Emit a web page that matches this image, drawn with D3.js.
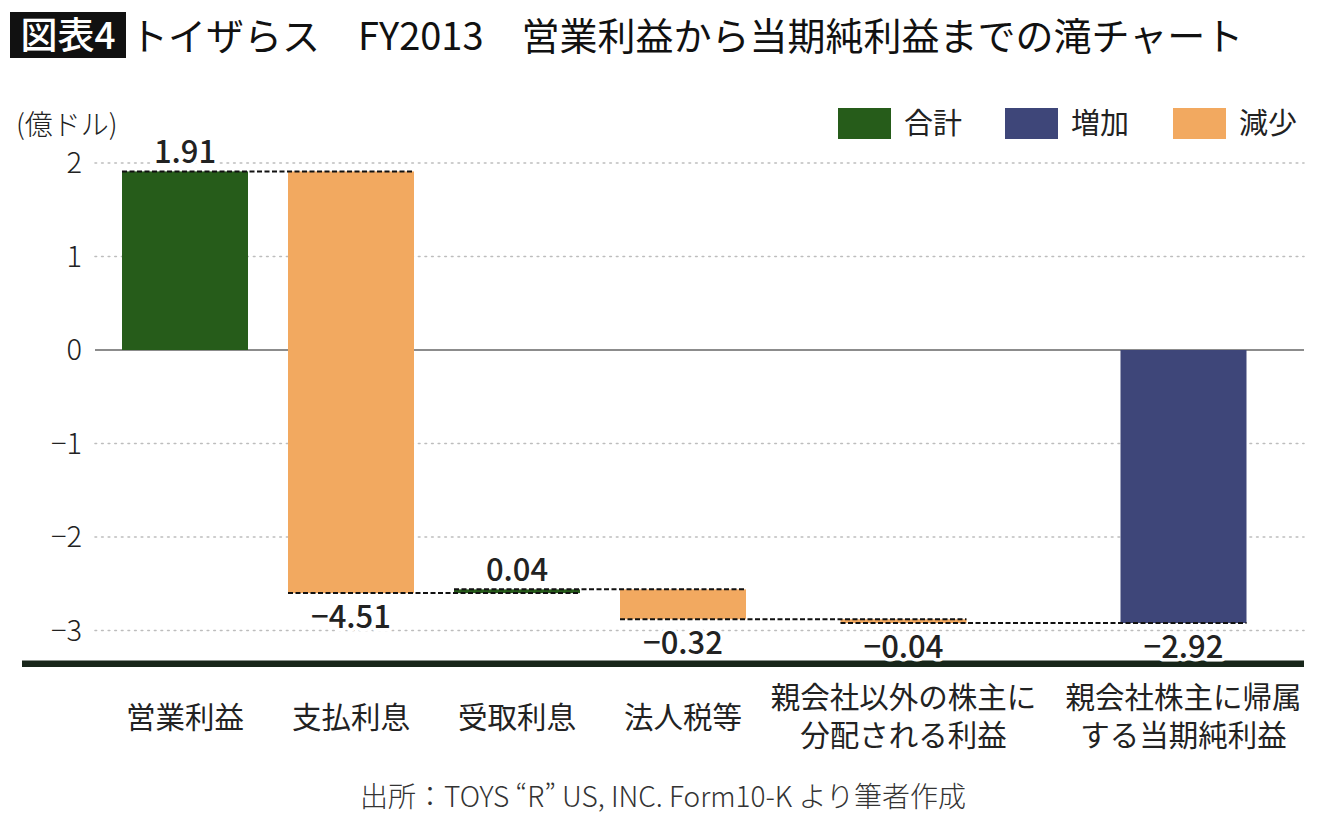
<!DOCTYPE html>
<html lang="ja">
  <head>
    <meta charset="UTF-8" />
    <title>トイザらス FY2013 滝チャート</title>
    <script src="https://d3js.org/d3.v7.min.js"></script>
    <style>
      body {
        margin: 0;
        background: #fff;
      }
      svg text {
        font-family: "Noto Sans CJK JP", "Noto Sans", sans-serif;
        fill: #222;
      }
      .grid line {
        stroke: #bdbdbd;
        stroke-width: 1.6px;
        stroke-dasharray: 1.6 5;
        stroke-linecap: round;
      }
      .connector {
        stroke: #111;
        stroke-width: 2px;
        stroke-dasharray: 5 2.5;
      }
      .value-label {
        font-size: 31px;
        font-weight: 500;
        paint-order: stroke;
        stroke: #fff;
        stroke-width: 7px;
        stroke-linejoin: round;
      }
    </style>
  </head>
  <body>
    <div id="chart"></div>

    <script>
      // chart data
      const categories = [
        "営業利益",
        "支払利息",
        "受取利息",
        "法人税等",
        "親会社以外の株主に\n分配される利益",
        "親会社株主に帰属\nする当期純利益",
      ];
      const values = [1.91, -4.51, 0.04, -0.32, -0.04, -2.92];
      const isTotal = [true, false, false, false, false, true];
      const barKinds = ["合計", "減少", "合計", "減少", "減少", "増加"];
      const legendLabels = ["合計", "増加", "減少"];
      const yTicks = [2, 1, 0, -1, -2, -3];

      const width = 1340;
      const height = 823;

      const color = d3
        .scaleOrdinal()
        .domain(legendLabels)
        .range(["#265c1a", "#3e4679", "#f2a960"]);

      // running totals for the waterfall
      let running = 0;
      const bars = categories.map((c, i) => {
        let start, end;
        if (isTotal[i]) {
          start = 0;
          end = values[i];
        } else {
          start = running;
          end = running + values[i];
        }
        running = end;
        return { cat: c, value: values[i], start, end, kind: barKinds[i] };
      });

      const x = d3
        .scaleOrdinal()
        .domain(categories)
        .range([185, 351, 517, 683, 903.5, 1183.5]);
      const barW = 126;

      const y = d3.scaleLinear().domain([-3, 2]).range([630.5, 163]);

      const plotLeft = 95;
      const plotRight = 1304;

      const svg = d3
        .select("#chart")
        .append("svg")
        .attr("width", width)
        .attr("height", height)
        .attr("viewBox", [0, 0, width, height]);

      // title
      svg
        .append("rect")
        .attr("x", 10)
        .attr("y", 12)
        .attr("width", 116)
        .attr("height", 46)
        .attr("fill", "#111");
      svg
        .append("text")
        .attr("x", 68)
        .attr("y", 49)
        .attr("text-anchor", "middle")
        .style("font-size", "37px")
        .style("font-weight", 500)
        .style("fill", "#fff")
        .text("図表4");
      svg
        .append("text")
        .attr("x", 130)
        .attr("y", 50)
        .style("font-size", "38px")
        .style("font-weight", 400)
        .style("fill", "#111")
        .text("トイザらス　FY2013　営業利益から当期純利益までの滝チャート");

      // unit
      svg
        .append("text")
        .attr("x", 16)
        .attr("y", 135)
        .style("font-size", "28px")
        .style("font-weight", 300)
        .text("(億ドル)");

      // legend
      const legend = svg
        .append("g")
        .selectAll("g")
        .data(legendLabels)
        .join("g")
        .attr("transform", (d, i) => `translate(${[838, 1005, 1173][i]},108)`);
      legend
        .append("rect")
        .attr("width", 53)
        .attr("height", 31)
        .attr("fill", (d) => color(d));
      legend
        .append("text")
        .attr("x", 66)
        .attr("y", 26)
        .style("font-size", "29px")
        .text((d) => d);

      // y axis gridlines + ticks
      svg
        .append("g")
        .attr("class", "grid")
        .selectAll("line")
        .data(yTicks.filter((d) => d !== 0))
        .join("line")
        .attr("x1", plotLeft)
        .attr("x2", plotRight)
        .attr("y1", (d) => y(d))
        .attr("y2", (d) => y(d));

      svg
        .append("g")
        .selectAll("text")
        .data(yTicks)
        .join("text")
        .attr("x", 82)
        .attr("y", (d) => y(d))
        .attr("dy", "0.36em")
        .attr("text-anchor", "end")
        .style("font-size", "29px")
        .style("font-weight", 300)
        .text((d) => (d < 0 ? "−" + Math.abs(d) : d));

      svg
        .append("line")
        .attr("x1", plotLeft)
        .attr("x2", plotRight)
        .attr("y1", y(0))
        .attr("y2", y(0))
        .attr("stroke", "#666")
        .attr("stroke-width", 1.6);

      // bars
      svg
        .append("g")
        .selectAll("rect")
        .data(bars)
        .join("rect")
        .attr("x", (d) => x(d.cat) - barW / 2)
        .attr("width", barW)
        .attr("y", (d) => y(Math.max(d.start, d.end)))
        .attr("height", (d) => Math.abs(y(d.start) - y(d.end)))
        .attr("fill", (d) => color(d.kind));

      // dashed connectors from one bar to the next
      svg
        .append("g")
        .selectAll("line")
        .data(bars.slice(0, -1))
        .join("line")
        .attr("class", "connector")
        .attr("x1", (d) => x(d.cat) - barW / 2)
        .attr("x2", (d, i) => x(bars[i + 1].cat) + barW / 2)
        .attr("y1", (d) => y(d.end))
        .attr("y2", (d) => y(d.end));

      // bottom axis line
      svg
        .append("line")
        .attr("x1", 22)
        .attr("x2", plotRight)
        .attr("y1", y(-3.355))
        .attr("y2", y(-3.355))
        .attr("stroke", "#18261a")
        .attr("stroke-width", 6.5);

      // value labels
      svg
        .append("g")
        .selectAll("text")
        .data(bars)
        .join("text")
        .attr("class", "value-label")
        .attr("x", (d) => x(d.cat))
        .attr("y", (d) =>
          d.value >= 0
            ? y(Math.max(d.start, d.end)) - 8
            : y(Math.min(d.start, d.end)) + 35
        )
        .attr("text-anchor", "middle")
        .text((d) =>
          d.value < 0 ? "−" + Math.abs(d.value).toFixed(2) : d.value.toFixed(2)
        );

      // category labels
      const catLabels = svg
        .append("g")
        .selectAll("text")
        .data(categories)
        .join("text")
        .attr("x", (d) => x(d))
        .attr("y", (d) => (d.includes("\n") ? 708 : 728))
        .attr("text-anchor", "middle")
        .style("font-size", "29.5px");
      catLabels
        .selectAll("tspan")
        .data((d) => d.split("\n").map((t) => ({ t, c: d })))
        .join("tspan")
        .attr("x", (d) => x(d.c))
        .attr("dy", (d, i) => (i === 0 ? 0 : 38))
        .text((d) => d.t);

      // source
      svg
        .append("text")
        .attr("x", 663)
        .attr("y", 807)
        .attr("text-anchor", "middle")
        .style("font-size", "28px")
        .style("font-weight", 300)
        .style("fill", "#333")
        .text("出所：TOYS “R” US, INC. Form10-K より筆者作成");
    </script>
  </body>
</html>
